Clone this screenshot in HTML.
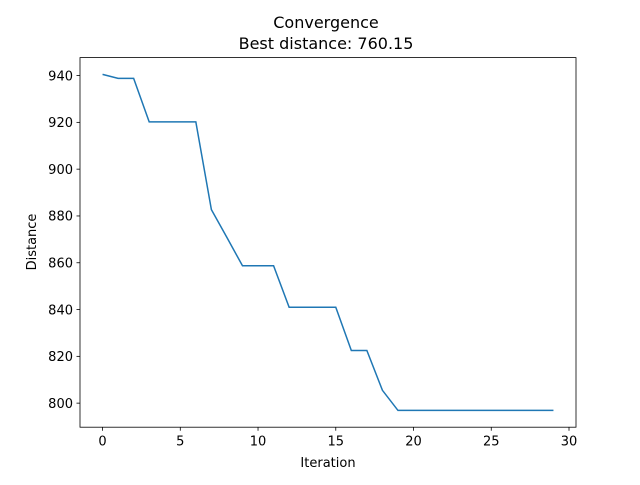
<!DOCTYPE html>
<html><head><meta charset="utf-8"><style>
body{margin:0;background:#fff;}
svg text{font-family:"DejaVu Sans","Liberation Sans",sans-serif;fill:#000;}
</style></head><body>
<svg id="chart" width="640" height="480" xmlns="http://www.w3.org/2000/svg">
<rect width="640" height="480" fill="#fff"/>
<text x="326" y="28" font-size="16" text-anchor="middle">Convergence</text>
<text x="326" y="49" font-size="16" text-anchor="middle">Best distance: 760.15</text>
<g id="plot"></g>
<text x="328" y="467" font-size="13" text-anchor="middle">Iteration</text>
<text transform="translate(36,242) rotate(-90)" font-size="13" text-anchor="middle">Distance</text>
</svg>
<script>
const iterations=[0,1,2,3,4,5,6,7,8,9,10,11,12,13,14,15,16,17,18,19,20,21,22,23,24,25,26,27,28,29];
const distances=[940.5,938.8,938.8,920.2,920.2,920.2,920.2,882.7,870.8,858.7,858.7,858.7,841,841,841,841,822.5,822.5,805.5,796.9,796.9,796.9,796.9,796.9,796.9,796.9,796.9,796.9,796.9,796.9];
const xTicks=[0,5,10,15,20,25,30];
const yTicks=[800,820,840,860,880,900,920,940];
const L=80,R=576,T=57.6,B=427.2;
const xmn=Math.min(...iterations),xmx=Math.max(...iterations),xp=(xmx-xmn)*0.05;
const ymn=Math.min(...distances),ymx=Math.max(...distances),yp=(ymx-ymn)*0.05;
const sx=v=>L+(v-(xmn-xp))/((xmx+xp)-(xmn-xp))*(R-L);
const sy=v=>B-(v-(ymn-yp))/((ymx+yp)-(ymn-yp))*(B-T);
const NS="http://www.w3.org/2000/svg",g=document.getElementById('plot');
function mk(t,a){const e=document.createElementNS(NS,t);for(const k in a)e.setAttribute(k,a[k]);g.appendChild(e);return e;}
xTicks.forEach(v=>{const x=sx(v);
 const t=mk('line',{x1:x,x2:x,y1:B,y2:B+3.5,stroke:'#000','stroke-width':0.8});
 
 
 const l=mk('text',{x:x,y:B+18.5,'font-size':13,'text-anchor':'middle'});l.textContent=v;
 
 });
yTicks.forEach(v=>{const y=sy(v);
 const t=mk('line',{x1:L-3.5,x2:L,y1:y,y2:y,stroke:'#000','stroke-width':0.8});
 
 
 const l=mk('text',{x:L-7,y:y+4.7,'font-size':13,'text-anchor':'end'});l.textContent=v;
 
 });
const line=mk('polyline',{points:iterations.map((v,i)=>sx(v)+','+sy(distances[i])).join(' '),fill:'none',stroke:'#1f77b4','stroke-width':1.5});


const fr=mk('rect',{x:L,y:T,width:R-L,height:B-T,fill:'none',stroke:'#000','stroke-width':0.8});


</script>
</body></html>
